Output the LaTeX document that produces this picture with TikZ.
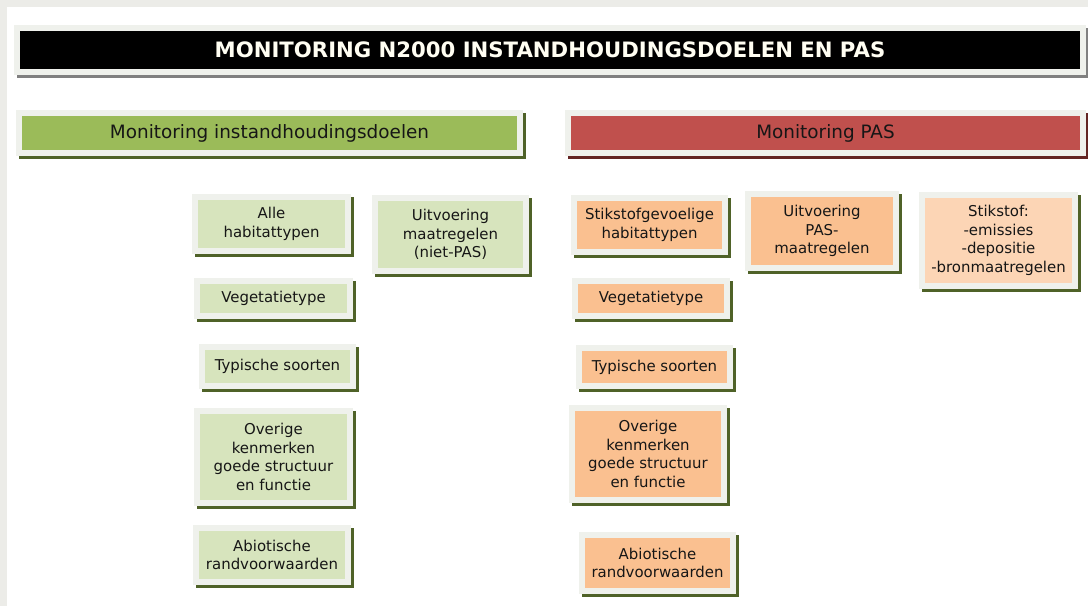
\documentclass[tikz,border=0pt]{standalone}
\usepackage{fontspec}
\setmainfont{DejaVu Sans}
\usetikzlibrary{positioning}
\definecolor{PageGrey}{RGB}{236,236,232}
\definecolor{FrameGrey}{RGB}{239,241,236}
\definecolor{OliveShadow}{RGB}{79,98,40}
\definecolor{DarkRed}{RGB}{99,37,35}
\definecolor{LeafGreen}{RGB}{155,187,89}
\definecolor{BrickRed}{RGB}{192,80,77}
\definecolor{SageLight}{RGB}{215,228,189}
\definecolor{Apricot}{RGB}{250,192,144}
\definecolor{PaleApricot}{RGB}{252,213,181}
\definecolor{InkGrey}{RGB}{22,22,22}

\begin{document}
\begin{tikzpicture}[
        x=0.75pt, y=-0.75pt,
        shadowed/.style={preaction={draw=#1, line width=9pt, transform canvas={shift={(1.9pt,-2pt)}}}, preaction={draw=FrameGrey, line width=9pt}},
        dims/.style 2 args={minimum width=#1*0.75pt, minimum height=#2*0.75pt},
        titlebar/.style={fill=black, text=white!95!yellow, inner sep=0pt, font=\fontsize{15.9}{18}\selectfont\bfseries, shadowed=gray},
        header/.style 2 args={fill=#1, text=InkGrey, inner sep=0pt, font=\fontsize{13.8}{16}\selectfont, shadowed=#2},
        box/.style={fill=#1, text=InkGrey, inner sep=0pt, align=center, font=\fontsize{11.2}{13.9}\selectfont, shadowed=OliveShadow}
    ]
        \useasboundingbox (0,0) rectangle (1088,606);
        \fill[white] (0,0) rectangle (1088,606);
        \fill[PageGrey] (0,0) rectangle (1088,7);
        \fill[PageGrey] (0,0) rectangle (7,606);

        \node[titlebar, dims={1060}{38}] (title) at (550,50) {MONITORING N2000 INSTANDHOUDINGSDOELEN EN PAS};

        \node[header={LeafGreen}{OliveShadow}, dims={495}{34}] (doelen) at (269.5,133) {Monitoring instandhoudingsdoelen};
        \node[header={BrickRed}{DarkRed}, dims={509}{34}] (pas) at (825.5,133) {Monitoring PAS};

        \node[box=SageLight, dims={147}{48}] (alle) at (271.5,224) {Alle\\habitattypen};
        \node[box=SageLight, dims={145}{67}] (uitvn) at (450.5,234.5) {Uitvoering\\maatregelen\\(niet-PAS)};
        \node[box=SageLight, dims={147}{29}] (vegl) at (273.5,298.5) {Vegetatietype};
        \node[box=SageLight, dims={145}{33}] (typl) at (277.5,366.5) {Typische soorten};
        \node[box=SageLight, dims={147}{86}] (overl) at (273.5,457) {Overige\\kenmerken\\goede structuur\\en functie};
        \node[box=SageLight, dims={146}{48}] (abiol) at (272,555) {Abiotische\\randvoorwaarden};

        \node[box=Apricot, dims={145}{48}] (stikgev) at (649.5,225) {Stikstofgevoelige\\habitattypen};
        \node[box=Apricot, dims={142}{68}] (uitvp) at (822,231) {Uitvoering\\PAS-\\maatregelen};
        \node[box=PaleApricot, dims={147}{85}] (stikstof) at (998.5,240.5) {Stikstof:\\-emissies\\-depositie\\-bronmaatregelen};
        \node[box=Apricot, dims={146}{29}] (vegr) at (651,298.5) {Vegetatietype};
        \node[box=Apricot, dims={145}{32}] (typr) at (654.5,367) {Typische soorten};
        \node[box=Apricot, dims={146}{86}] (overr) at (648,454) {Overige\\kenmerken\\goede structuur\\en functie};
        \node[box=Apricot, dims={145}{50}] (abior) at (657.5,563) {Abiotische\\randvoorwaarden};
    \end{tikzpicture}
\end{document}
